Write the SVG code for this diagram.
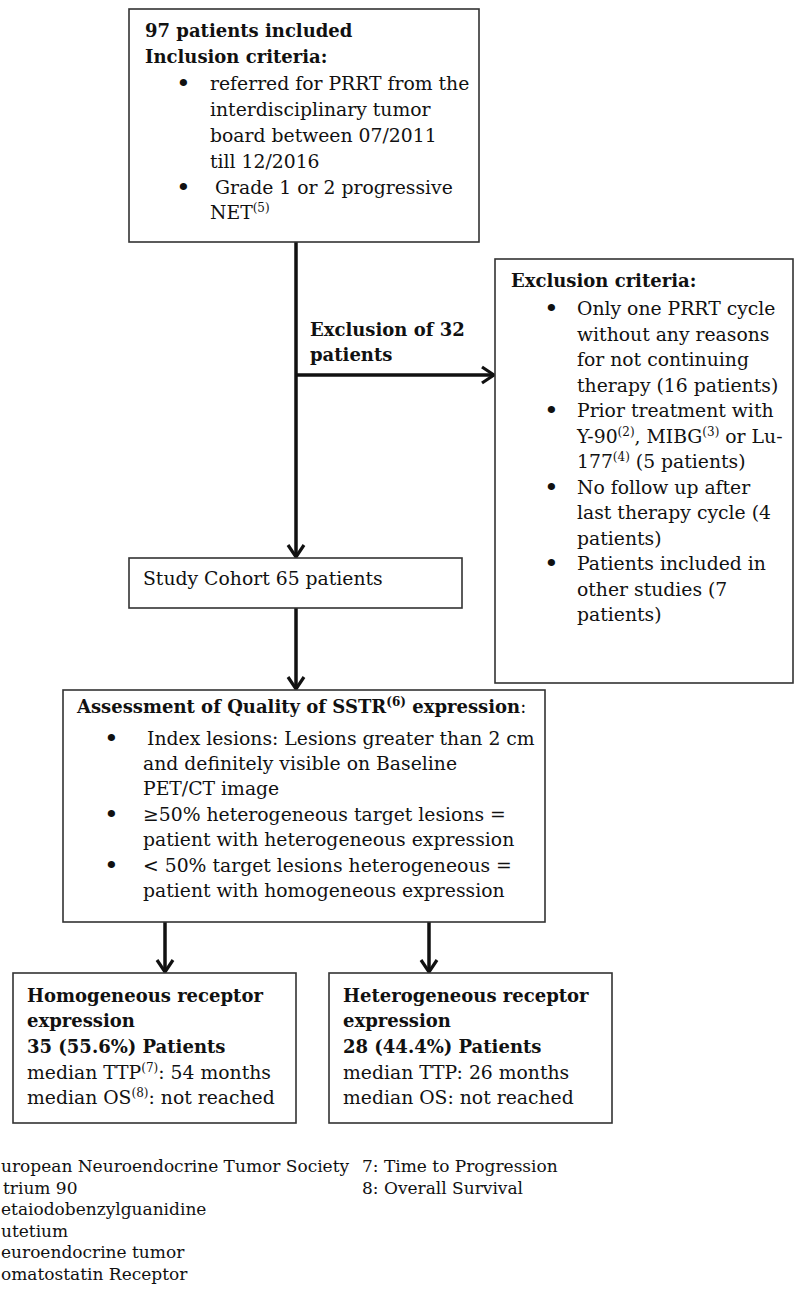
<svg xmlns="http://www.w3.org/2000/svg" width="795" height="1292" viewBox="0 0 795 1292">
<defs>
<style>
.box{fill:#fff;stroke:#333;stroke-width:1.6}
.t{font-family:"DejaVu Serif","Liberation Serif",serif;font-size:18.8px;fill:#111}
.bl{font-family:"DejaVu Serif","Liberation Serif",serif;font-size:25px;fill:#111}
.b{font-family:"DejaVu Serif","Liberation Serif",serif;font-size:18px;font-weight:bold;fill:#111}
.fn{font-family:"DejaVu Serif","Liberation Serif",serif;font-size:17px;fill:#111}
.sup{font-size:12px}
.con{stroke:#111;stroke-width:3.5;fill:none}
</style>
<marker id="arr" viewBox="0 0 16 20" refX="14" refY="10" markerWidth="16" markerHeight="20" markerUnits="userSpaceOnUse" orient="auto">
<path d="M2,2 L14,10 L2,18" fill="none" stroke="#111" stroke-width="3.2"/>
</marker>
</defs>
<rect width="795" height="1292" fill="#fff"/>

<g id="connectors">
<line class="con" x1="296" y1="242" x2="296" y2="557" marker-end="url(#arr)"/>
<line class="con" x1="296" y1="375" x2="494" y2="375" marker-end="url(#arr)"/>
<line class="con" x1="296" y1="608" x2="296" y2="689" marker-end="url(#arr)"/>
<line class="con" x1="165" y1="922" x2="165" y2="972" marker-end="url(#arr)"/>
<line class="con" x1="429" y1="922" x2="429" y2="972" marker-end="url(#arr)"/>
</g>

<g id="inclusion">
<rect class="box" x="129" y="9" width="350" height="233"/>
<text class="b" x="145" y="37">97 patients included</text>
<text class="b" x="145" y="63">Inclusion criteria:</text>
<text class="bl" x="176" y="92">•</text>
<text class="t" x="210" y="90">referred for PRRT from the</text>
<text class="t" x="210" y="116">interdisciplinary tumor</text>
<text class="t" x="210" y="142">board between 07/2011</text>
<text class="t" x="210" y="168">till 12/2016</text>
<text class="bl" x="176" y="196">•</text>
<text class="t" x="215" y="194">Grade 1 or 2 progressive</text>
<text class="t" x="210" y="219">NET<tspan class="sup" dy="-7">(5)</tspan></text>
</g>

<g id="exclusion-label">
<text class="b" x="310" y="336">Exclusion of 32</text>
<text class="b" x="310" y="361">patients</text>
</g>

<g id="exclusion">
<rect class="box" x="495" y="259" width="298" height="424"/>
<text class="b" x="511" y="287">Exclusion criteria:</text>
<text class="bl" x="544" y="317">•</text>
<text class="t" x="577" y="315">Only one PRRT cycle</text>
<text class="t" x="577" y="341">without any reasons</text>
<text class="t" x="577" y="366">for not continuing</text>
<text class="t" x="577" y="392">therapy (16 patients)</text>
<text class="bl" x="544" y="419">•</text>
<text class="t" x="577" y="417">Prior treatment with</text>
<text class="t" x="577" y="443">Y-90<tspan class="sup" dy="-7">(2)</tspan><tspan dy="7">, MIBG</tspan><tspan class="sup" dy="-7">(3)</tspan><tspan dy="7"> or Lu-</tspan></text>
<text class="t" x="577" y="468">177<tspan class="sup" dy="-7">(4)</tspan><tspan dy="7"> (5 patients)</tspan></text>
<text class="bl" x="544" y="496">•</text>
<text class="t" x="577" y="494">No follow up after</text>
<text class="t" x="577" y="519">last therapy cycle (4</text>
<text class="t" x="577" y="545">patients)</text>
<text class="bl" x="544" y="572">•</text>
<text class="t" x="577" y="570">Patients included in</text>
<text class="t" x="577" y="596">other studies (7</text>
<text class="t" x="577" y="621">patients)</text>
</g>

<g id="cohort">
<rect class="box" x="129" y="558" width="333" height="50"/>
<text class="t" x="143" y="585">Study Cohort 65 patients</text>
</g>

<g id="assessment">
<rect class="box" x="63" y="690" width="482" height="232"/>
<text class="b" x="77" y="713">Assessment of Quality of SSTR<tspan class="sup" dy="-7">(6)</tspan><tspan dy="7"> expression</tspan><tspan style="font-weight:normal">:</tspan></text>
<text class="bl" x="104" y="747">•</text>
<text class="t" x="147" y="745">Index lesions: Lesions greater than 2 cm</text>
<text class="t" x="143" y="770">and definitely visible on Baseline</text>
<text class="t" x="143" y="795">PET/CT image</text>
<text class="bl" x="104" y="823">•</text>
<text class="t" x="143" y="821">≥50% heterogeneous target lesions =</text>
<text class="t" x="143" y="846">patient with heterogeneous expression</text>
<text class="bl" x="104" y="874">•</text>
<text class="t" x="143" y="872">&lt; 50% target lesions heterogeneous =</text>
<text class="t" x="143" y="897">patient with homogeneous expression</text>
</g>

<g id="homogeneous">
<rect class="box" x="13" y="973" width="283" height="150"/>
<text class="b" x="27" y="1002">Homogeneous receptor</text>
<text class="b" x="27" y="1027">expression</text>
<text class="b" x="27" y="1053">35 (55.6%) Patients</text>
<text class="t" x="27" y="1079">median TTP<tspan class="sup" dy="-7">(7)</tspan><tspan dy="7">: 54 months</tspan></text>
<text class="t" x="27" y="1104">median OS<tspan class="sup" dy="-7">(8)</tspan><tspan dy="7">: not reached</tspan></text>
</g>

<g id="heterogeneous">
<rect class="box" x="329" y="973" width="283" height="150"/>
<text class="b" x="343" y="1002">Heterogeneous receptor</text>
<text class="b" x="343" y="1027">expression</text>
<text class="b" x="343" y="1053">28 (44.4%) Patients</text>
<text class="t" x="343" y="1079">median TTP: 26 months</text>
<text class="t" x="343" y="1104">median OS: not reached</text>
</g>

<g id="footnotes">
<text class="fn" x="1" y="1172">uropean Neuroendocrine Tumor Society</text>
<text class="fn" x="3" y="1193.5">trium 90</text>
<text class="fn" x="1" y="1215">etaiodobenzylguanidine</text>
<text class="fn" x="1" y="1236.5">utetium</text>
<text class="fn" x="1" y="1258">euroendocrine tumor</text>
<text class="fn" x="1" y="1279.5">omatostatin Receptor</text>
<text class="fn" x="362" y="1172">7: Time to Progression</text>
<text class="fn" x="362" y="1193.5">8: Overall Survival</text>
</g>
</svg>
